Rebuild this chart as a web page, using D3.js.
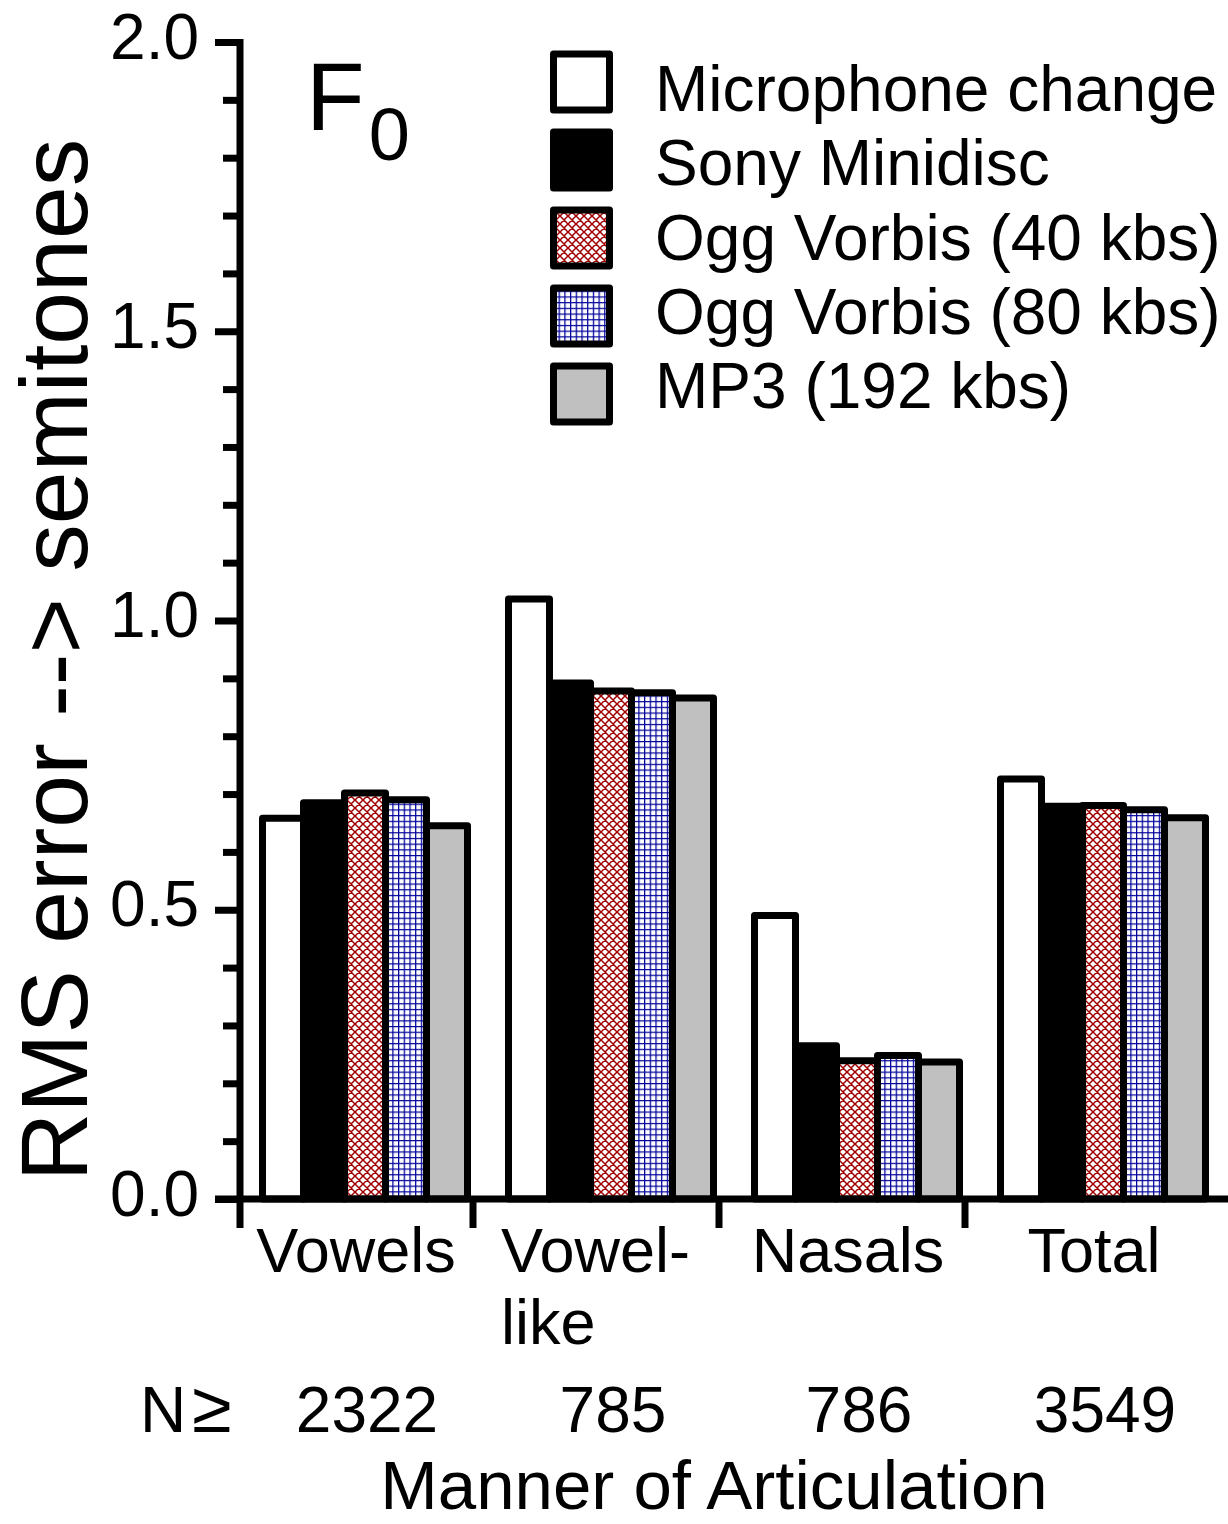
<!DOCTYPE html>
<html>
<head>
<meta charset="utf-8">
<script src="https://cdn.jsdelivr.net/npm/d3@7"></script>
<style>
  body { margin: 0; background: #fff; }
  text { font-family: "Liberation Sans", Arial, sans-serif; fill: #000; }
</style>
</head>
<body>
<div id="chart"></div>
<script>
(function(d3) {
  'use strict';

  // data
  var categories = ['Vowels', 'Vowel-like', 'Nasals', 'Total'];
  var categoryLines = [['Vowels'], ['Vowel-', 'like'], ['Nasals'], ['Total']];
  var nCounts = ['2322', '785', '786', '3549'];
  var series = ['Microphone change', 'Sony Minidisc', 'Ogg Vorbis (40 kbs)',
                'Ogg Vorbis (80 kbs)', 'MP3 (192 kbs)'];
  var micValues   = [0.658, 1.037, 0.490, 0.726];
  var sonyValues  = [0.685, 0.892, 0.265, 0.679];
  var ogg40Values = [0.702, 0.878, 0.239, 0.680];
  var ogg80Values = [0.690, 0.875, 0.248, 0.673];
  var mp3Values   = [0.645, 0.866, 0.237, 0.659];
  var seriesValues = [micValues, sonyValues, ogg40Values, ogg80Values, mp3Values];
  var majorTicks = [0, 0.5, 1.0, 1.5, 2.0];

  var fills = ['#ffffff', '#000000', 'url(#hatchRed)', 'url(#gridBlue)', '#c0c0c0'];

  var width = 1228, height = 1524;
  var stroke = 7;
  var barStep = 41;

  var svg = d3.select('#chart').append('svg')
    .attr('width', width)
    .attr('height', height);

  var defs = svg.append('defs');
  var pr = defs.append('pattern').attr('id', 'hatchRed')
    .attr('patternUnits', 'userSpaceOnUse')
    .attr('width', 8).attr('height', 8);
  pr.append('rect').attr('width', 8).attr('height', 8).attr('fill', '#fff');
  pr.append('path').attr('d', 'M0,0L8,8M8,0L0,8M-1,7L1,9M7,-1L9,1M-1,1L1,-1M7,9L9,7')
    .attr('stroke', '#a00000').attr('stroke-width', 1.5);

  var pb = defs.append('pattern').attr('id', 'gridBlue')
    .attr('patternUnits', 'userSpaceOnUse')
    .attr('width', 5.7).attr('height', 5.7);
  pb.append('rect').attr('width', 5.7).attr('height', 5.7).attr('fill', '#fff');
  pb.append('path').attr('d', 'M0,0.6H5.7M0.6,0V5.7')
    .attr('stroke', '#00009a').attr('stroke-width', 1.3);

  var y = d3.scaleLinear().domain([0, 2]).range([1199, 42]);
  var x = d3.scaleBand().domain(categories).range([227, 227 + 4 * 246]);
  var xs = d3.scaleBand().domain(series).range([35.5, 35.5 + 5 * barStep]);

  // bars
  var groups = svg.selectAll('.group')
    .data(categories)
    .enter().append('g')
    .attr('class', 'group')
    .attr('transform', function(d) { return 'translate(' + x(d) + ',0)'; });

  groups.selectAll('rect')
    .data(function(d, ci) {
      return series.map(function(s, si) { return { s: s, si: si, v: seriesValues[si][ci] }; });
    })
    .enter().append('rect')
    .attr('x', function(d) { return xs(d.s); })
    .attr('width', xs.bandwidth())
    .attr('y', function(d) { return y(d.v); })
    .attr('height', function(d) { return y(0) - y(d.v); })
    .attr('fill', function(d) { return fills[d.si]; })
    .attr('stroke', '#000')
    .attr('stroke-width', stroke)
    .attr('stroke-linejoin', 'round');

  // y axis
  var minorTicks = d3.range(0, 21).map(function(i) { return i / 10; })
    .filter(function(v) { return Math.round(v * 10) % 5 !== 0; });

  var yMajor = svg.append('g').attr('transform', 'translate(240,0)')
    .call(d3.axisLeft(y).tickValues(majorTicks).tickSize(25).tickPadding(16)
      .tickFormat(d3.format('.1f')));
  yMajor.select('.domain').remove();
  yMajor.selectAll('line').attr('stroke', '#000').attr('stroke-width', stroke);
  yMajor.selectAll('text').attr('font-size', 64).attr('dy', '0.25em')
    .style('font-family', '"Liberation Sans", Arial, sans-serif');

  var yMinor = svg.append('g').attr('transform', 'translate(240,0)')
    .call(d3.axisLeft(y).tickValues(minorTicks).tickSize(17).tickFormat(''));
  yMinor.select('.domain').remove();
  yMinor.selectAll('line').attr('stroke', '#000').attr('stroke-width', stroke);

  svg.append('line')
    .attr('x1', 240).attr('x2', 240)
    .attr('y1', y(2) - 3).attr('y2', 1228)
    .attr('stroke', '#000').attr('stroke-width', stroke);

  // x axis
  svg.append('line')
    .attr('x1', 215).attr('x2', width)
    .attr('y1', y(0)).attr('y2', y(0))
    .attr('stroke', '#000').attr('stroke-width', stroke);

  svg.selectAll('.xtick')
    .data(categories.slice(1))
    .enter().append('line')
    .attr('class', 'xtick')
    .attr('x1', function(d) { return x(d); })
    .attr('x2', function(d) { return x(d); })
    .attr('y1', y(0)).attr('y2', 1228)
    .attr('stroke', '#000').attr('stroke-width', stroke);

  // category labels
  svg.selectAll('.cat')
    .data(categories)
    .enter().append('text')
    .attr('class', 'cat')
    .attr('font-size', 63)
    .attr('text-anchor', function(d, i) { return categoryLines[i].length > 1 ? 'start' : 'middle'; })
    .attr('x', function(d, i) {
      var c = x(d) + x.bandwidth() / 2 + 6;
      return categoryLines[i].length > 1 ? c - 101 : c;
    })
    .attr('y', 1272)
    .each(function(d, i) {
      var t = d3.select(this);
      var cx = +t.attr('x');
      categoryLines[i].forEach(function(line, li) {
        t.append('tspan').attr('x', cx).attr('dy', li === 0 ? 0 : 72).text(line);
      });
    });

  // N counts
  var nLabel = svg.append('text').attr('x', 140).attr('y', 1432).attr('font-size', 64);
  nLabel.append('tspan').text('N');
  nLabel.append('tspan').attr('dx', 6).attr('font-size', 72).text('\u2265');
  svg.selectAll('.ncount')
    .data(nCounts)
    .enter().append('text')
    .attr('class', 'ncount')
    .attr('font-size', 64)
    .attr('text-anchor', 'middle')
    .attr('x', function(d, i) { return x(categories[i]) + xs.range()[0] + 5 * barStep / 2 + 2; })
    .attr('y', 1432)
    .text(function(d) { return d; });

  // axis titles
  svg.append('text')
    .attr('x', 714).attr('y', 1509)
    .attr('text-anchor', 'middle')
    .attr('font-size', 69)
    .text('Manner of Articulation');

  svg.append('text')
    .attr('transform', 'translate(87,660) rotate(-90)')
    .attr('text-anchor', 'middle')
    .attr('font-size', 95)
    .text('RMS error --> semitones');

  // F0 label
  var f0 = svg.append('text').attr('x', 306).attr('y', 130).attr('font-size', 96);
  f0.append('tspan').text('F');
  f0.append('tspan').attr('font-size', 74).attr('dy', 30).attr('dx', 4).text('0');

  // legend
  var legend = svg.selectAll('.legend')
    .data(series)
    .enter().append('g')
    .attr('class', 'legend');

  legend.append('rect')
    .attr('x', 553.5)
    .attr('y', function(d, i) { return 82 + i * 78 - 28; })
    .attr('width', 56)
    .attr('height', 56)
    .attr('fill', function(d, i) { return fills[i]; })
    .attr('stroke', '#000')
    .attr('stroke-width', stroke)
    .attr('stroke-linejoin', 'round');

  legend.append('text')
    .attr('x', 655)
    .attr('y', function(d, i) { return 111 + i * 74.3; })
    .attr('font-size', 64)
    .text(function(d) { return d; });

})(window.d3);
</script>
</body>
</html>
